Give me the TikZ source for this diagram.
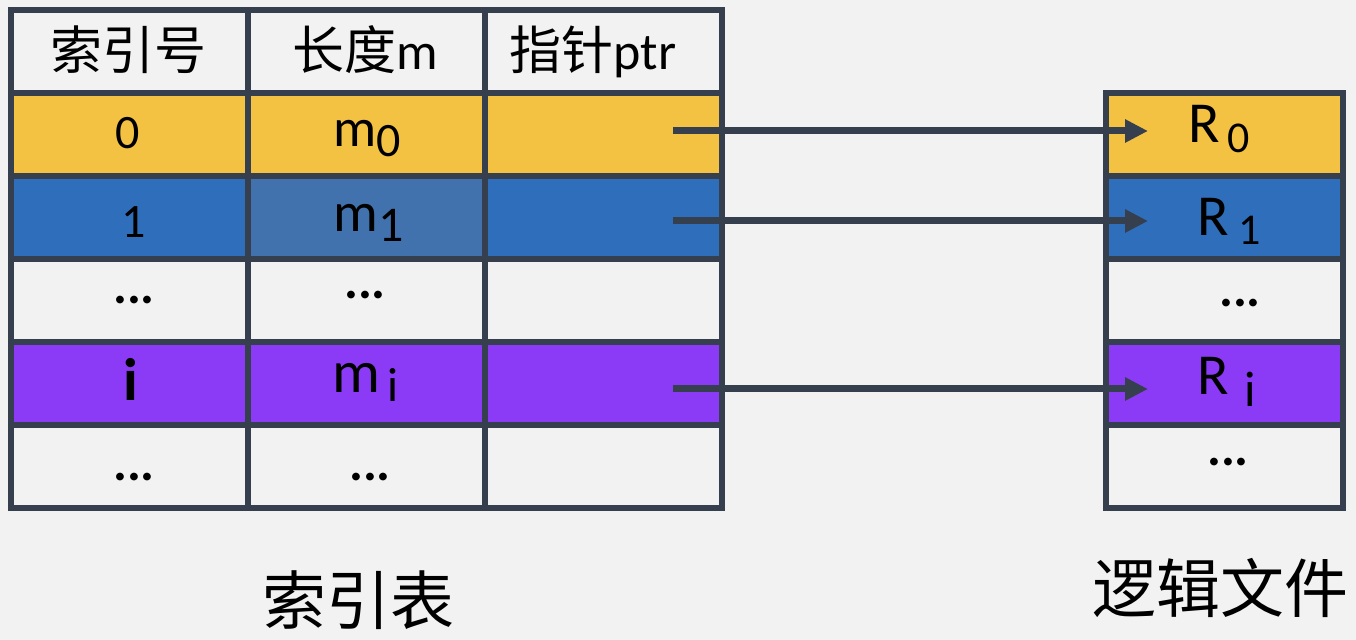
\documentclass[tikz,border=0pt]{standalone}
\usepackage{fontspec}
\setmainfont{Carlito}[Numbers=Lining]
\newfontfamily\cjk{Noto Sans CJK SC}
\usetikzlibrary{arrows.meta}
\definecolor{rand}{RGB}{53,63,77}
\definecolor{grund}{RGB}{242,242,242}
\definecolor{gelb}{RGB}{244,194,66}
\definecolor{blau}{RGB}{47,110,186}
\definecolor{blauhell}{RGB}{66,114,174}
\definecolor{lila}{RGB}{139,59,246}
\newcommand{\tief}[3][22]{\raisebox{-#2}{\fontsize{#1}{#1}\selectfont #3}}

\begin{document}
\begin{tikzpicture}[
		x=0.5pt, y=-0.5pt,
		> = {Triangle[length=11.5pt,width=11pt]},
		zelle/.style = {draw=rand,line width=3pt,minimum width=118.5pt,minimum height=41.5pt,inner sep=0pt,anchor=north west},
		kopf/.style = {inner sep=0pt,anchor=base,font=\fontsize{26}{26}\selectfont},
		zahl/.style = {inner sep=0pt,anchor=base,font=\fontsize{24}{24}\selectfont},
		gross/.style = {inner sep=0pt,anchor=base west,font=\fontsize{28}{28}\selectfont},
		punkte/.style = {inner sep=0pt,font=\bfseries\fontsize{26}{26}\selectfont},
		titel/.style = {inner sep=0pt,font=\cjk\fontsize{32}{32}\selectfont},
		zeiger/.style = {->,draw=rand,line width=3.5pt}
		]

	\useasboundingbox (0,0) rectangle (1356,640);
	\fill[grund] (0,0) rectangle (1356,640);

	% Indextabelle
	\foreach \r/\f in {0/grund,1/gelb,2/blau,3/grund,4/lila,5/grund}
		\foreach \c in {0,1,2}
			\node[zelle,fill=\f] (t\r\c) at ({8+237*\c},{7+83*\r}) {};
	\node[zelle,fill=blauhell] (t21) at (245,173) {};

	% logische Datei
	\foreach \r/\f in {1/gelb,2/blau,3/grund,4/lila,5/grund}
		\node[zelle,fill=\f] (d\r) at (1103,{7+83*\r}) {};

	\node[kopf] (h0) at (128,70) {\cjk 索引号};
	\node[kopf] (h1) at (365,70) {{\cjk 长度}m};
	\node[kopf] (h2) at (593,70) {{\cjk 指针}ptr};

	\node[zahl] (n0) at (128,149) {0};
	\node[zahl] (n1) at (134,238) {1};
	\node[zahl,font=\bfseries\fontsize{30}{30}\selectfont] (ni) at (131,401) {i};

	\node[gross,font=\fontsize{27}{27}\selectfont] (m0) at (333,147) {m\tief[24]{5pt}{0}};
	\node[gross] (m1) at (333,232) {m\tief[25]{5pt}{1}};
	\node[gross,font=\fontsize{30}{30}\selectfont] (mi) at (332,393) {m\hspace{3.5pt}\tief[24]{4.5pt}{i}};

	\node[gross,font=\fontsize{29}{29}\selectfont] (r0) at (1188,143) {R\hspace{4pt}\tief{5pt}{0}};
	\node[gross,font=\fontsize{29}{29}\selectfont] (r1) at (1197,236) {R\hspace{5pt}\tief{4.5pt}{1}};
	\node[gross,font=\fontsize{29}{29}\selectfont] (ri) at (1197,395) {R\hspace{8pt}\tief[25]{6pt}{i}};

	\foreach \x/\y [count=\k] in {134/300,365/295,134/477,370/477,1240/303,1228/462}
		\node[punkte] (p\k) at (\x,\y) {...};

	\node[titel] (l1) at (358,600) {索引表};
	\node[titel] (l2) at (1220,588) {逻辑文件};

	% Zeiger
	\coordinate (a0) at (673,131);
	\coordinate (e0) at (1148,131);
	\coordinate (a1) at (673,221);
	\coordinate (e1) at (1148,221);
	\coordinate (ai) at (673,389);
	\coordinate (ei) at (1148,389);

	\draw[zeiger] (a0) -- (e0);
	\draw[zeiger] (a1) -- (e1);
	\draw[zeiger] (ai) -- (ei);
\end{tikzpicture}
\end{document}
